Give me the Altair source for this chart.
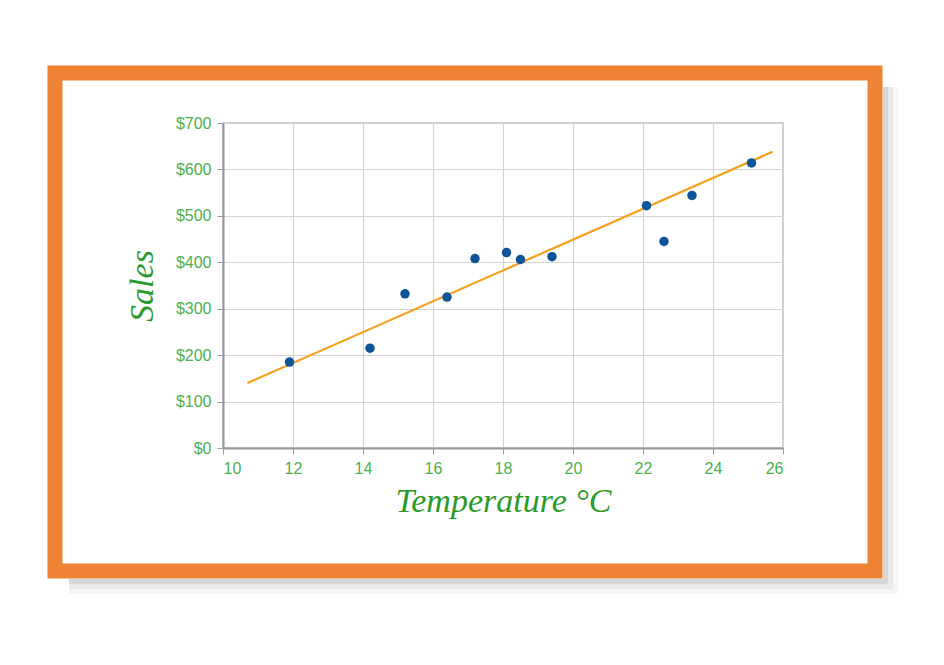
import altair as alt
import pandas as pd

# Data
temperature = [11.9, 14.2, 15.2, 16.4, 17.2, 18.1, 18.5, 19.4, 22.1, 22.6, 23.4, 25.1]
sales = [185, 215, 332, 325, 408, 421, 406, 412, 522, 445, 544, 614]
trend_x = [10.7, 25.7]
trend_y = [140, 638]
x_ticks = [10, 12, 14, 16, 18, 20, 22, 24, 26]
y_ticks = [0, 100, 200, 300, 400, 500, 600, 700]

points = pd.DataFrame({"Temperature": temperature, "Sales": sales})
trend = pd.DataFrame({"Temperature": trend_x, "Sales": trend_y})
one = pd.DataFrame({"k": [0]})

W, H = 560, 325
GREEN_LBL = "#4DB04D"
GREEN_TTL = "#2B9A2B"
ORANGE = "#EE8235"

# decorative frame (plot-relative pixels)
FL, FR, FT, FB = -168, 652, -50, 448

xs = alt.Scale(domain=[10, 26], nice=False)
ys = alt.Scale(domain=[0, 700], nice=False)

common = dict(labelColor=GREEN_LBL, labelFontSize=16, labelFont="Liberation Sans", labelPadding=6,
              titleFont="Liberation Serif", titleFontStyle="italic", titleFontWeight="normal",
              titleFontSize=34, titleColor=GREEN_TTL,
              domainColor="#9a9a9a", domainWidth=2, tickColor="#9a9a9a", tickSize=6,
              gridColor="#d4d4d4", gridWidth=1.2)
x_axis = alt.Axis(values=x_ticks, title="Temperature °C", titlePadding=8, **common)
y_axis = alt.Axis(values=y_ticks, format="$,.0f", title="Sales", titlePadding=16, **common)

shadow_layers = []
for i, op in enumerate([0.22, 0.16, 0.11, 0.07]):
    off = 8 + i * 5
    right = alt.Chart(one).mark_rect(color="#808080", opacity=op, clip=False).encode(
        x=alt.value(FR + 8), x2=alt.value(FR + off),
        y=alt.value(FT + 14), y2=alt.value(FB + off))
    bottom = alt.Chart(one).mark_rect(color="#808080", opacity=op, clip=False).encode(
        x=alt.value(FL + 14), x2=alt.value(FR + 8),
        y=alt.value(FB + 8), y2=alt.value(FB + off))
    shadow_layers += [right, bottom]

frame = alt.Chart(one).mark_rect(filled=False, stroke=ORANGE, strokeWidth=15, clip=False).encode(
    x=alt.value(FL), x2=alt.value(FR), y=alt.value(FT), y2=alt.value(FB))

line = alt.Chart(trend).mark_line(color="#F6A11D", strokeWidth=2.2).encode(
    x=alt.X("Temperature:Q", scale=xs, axis=x_axis),
    y=alt.Y("Sales:Q", scale=ys, axis=y_axis))

dots = alt.Chart(points).mark_circle(size=90, color="#0D5499", opacity=1).encode(
    x=alt.X("Temperature:Q", scale=xs),
    y=alt.Y("Sales:Q", scale=ys))

chart = alt.layer(*shadow_layers, frame, line, dots).properties(
    width=W, height=H,
    autosize=alt.AutoSizeParams(type="none"),
    padding={"left": 215, "top": 115, "right": 150, "bottom": 200},
).configure_view(stroke="#bdbdbd", strokeWidth=1.5)

chart.save("out.html", embed_options={"renderer": "svg", "actions": False})
